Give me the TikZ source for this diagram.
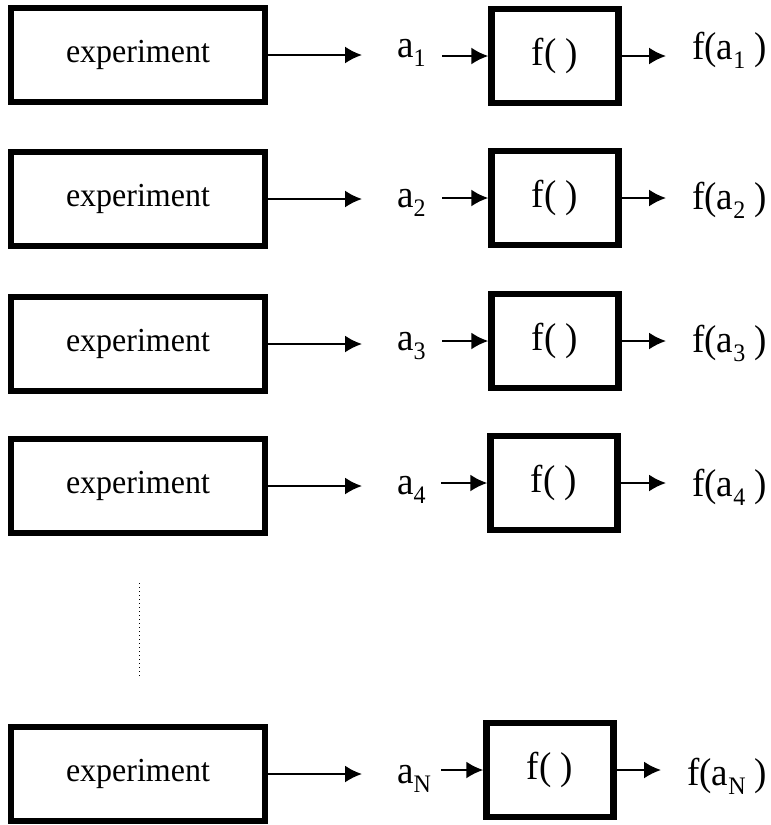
\documentclass[tikz,border=0pt]{standalone}
\usepackage{fontspec}
\setmainfont{Liberation Serif}
\usepackage{graphicx}
\usetikzlibrary{arrows.meta, positioning}
\tikzset{
  expbox/.style={
    rectangle,
    draw,
    line width=6.5pt,
    minimum width=254pt,
    minimum height=94pt,
    font=\fontsize{32}{36}\selectfont
  },
  funcbox/.style={
    rectangle,
    draw,
    line width=6.5pt,
    minimum width=127pt,
    minimum height=94pt,
    font=\fontsize{37}{40}\selectfont
  },
  lbl/.style={inner sep=0pt, anchor=base west, font=\fontsize{37}{40}\selectfont},
  arrow/.style={-{Latex[length=17pt, width=17pt]}, line width=2pt},
  dotline/.style={line width=1pt, dash pattern=on 1pt off 3pt}
}
\newcommand{\tall}[1]{\scalebox{1}[1.05]{#1}}
\newcommand{\idx}[1]{\raisebox{-9pt}{\fontsize{24}{24}\selectfont #1}}

\begin{document}
\begin{tikzpicture}[x=1pt,y=-1pt]
\useasboundingbox (0,0) rectangle (771,825);
\node[expbox] (exp1) at (138,55) {\tall{experiment}};
\node[expbox] (exp2) at (138,199) {\tall{experiment}};
\node[expbox] (exp3) at (138,344) {\tall{experiment}};
\node[expbox] (exp4) at (138,486) {\tall{experiment}};
\node[expbox] (expN) at (138,774) {\tall{experiment}};
\node[funcbox] (f1) at (555,56) {\tall{f( )}};
\node[funcbox] (f2) at (555,198) {\tall{f( )}};
\node[funcbox] (f3) at (555,341) {\tall{f( )}};
\node[funcbox] (f4) at (554,483) {\tall{f( )}};
\node[funcbox] (fN) at (550,770) {\tall{f( )}};
\node[lbl] (a1) at (397,57) {\tall{a\idx{1}}};
\node[lbl] (a2) at (397,207) {\tall{a\idx{2}}};
\node[lbl] (a3) at (397,350) {\tall{a\idx{3}}};
\node[lbl] (a4) at (397,494) {\tall{a\idx{4}}};
\node[lbl] (aN) at (397,783) {\tall{a\idx{N}}};
\node[lbl] (fa1) at (692,59) {\tall{f(a\idx{1} )}};
\node[lbl] (fa2) at (692,209) {\tall{f(a\idx{2} )}};
\node[lbl] (fa3) at (692,352) {\tall{f(a\idx{3} )}};
\node[lbl] (fa4) at (692,496) {\tall{f(a\idx{4} )}};
\node[lbl] (faN) at (687,785) {\tall{f(a\idx{N} )}};
\coordinate (vtop) at (139,583);
\coordinate (vbot) at (139,677);

\draw[arrow, shorten >=35pt] (exp1.east) -- (exp1.east -| a1.west);
\draw[arrow, shorten >=35pt] (exp2.east) -- (exp2.east -| a2.west);
\draw[arrow, shorten >=35pt] (exp3.east) -- (exp3.east -| a3.west);
\draw[arrow, shorten >=35pt] (exp4.east) -- (exp4.east -| a4.west);
\draw[arrow, shorten >=35pt] (expN.east) -- (expN.east -| aN.west);
\draw[arrow] ([xshift=-46pt]f1.west) -- (f1.west);
\draw[arrow] ([xshift=-46pt]f2.west) -- (f2.west);
\draw[arrow] ([xshift=-46pt]f3.west) -- (f3.west);
\draw[arrow] ([xshift=-46pt]f4.west) -- (f4.west);
\draw[arrow] ([xshift=-42pt]fN.west) -- (fN.west);
\draw[arrow, shorten >=26pt] (f1.east) -- (f1.east -| fa1.west);
\draw[arrow, shorten >=26pt] (f2.east) -- (f2.east -| fa2.west);
\draw[arrow, shorten >=26pt] (f3.east) -- (f3.east -| fa3.west);
\draw[arrow, shorten >=26pt] (f4.east) -- (f4.east -| fa4.west);
\draw[arrow, shorten >=26pt] (fN.east) -- (fN.east -| faN.west);
\draw[dotline] (vtop) -- (vbot);
\end{tikzpicture}
\end{document}
